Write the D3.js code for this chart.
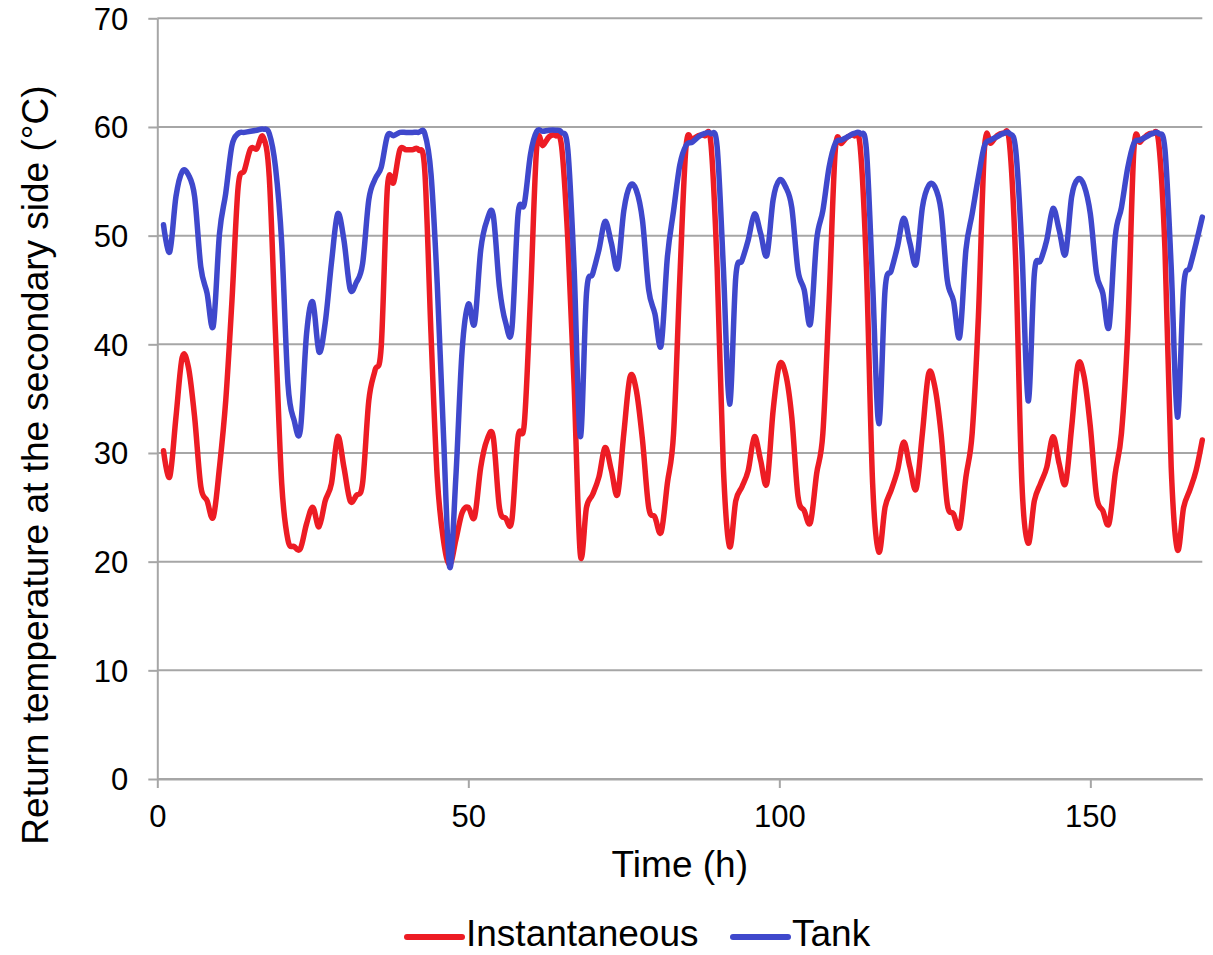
<!DOCTYPE html>
<meta charset="utf-8">
<head>
    <title>Return temperature at the secondary side</title>
    <script src="https://d3js.org/d3.v7.min.js"></script>
    <style>
        body { margin: 0; background: #ffffff; }
        text { font-family: "Liberation Sans", Arial, sans-serif; fill: #000000; }
    </style>
</head>
<body>
<div id="my_dataviz"></div>
<script>

// hourly return temperatures (°C), hours 1..168
var hours = d3.range(1, 169);

var instantaneous = [
    30.2, 27.8, 33.3, 38.8, 37.9, 33.3, 26.9, 25.6, 24.1, 28.7, 34.8, 44.0,
    54.5, 56.0, 58.0, 58.0, 59.1, 55.4, 41.0, 27.2, 22.0, 21.4, 21.2, 23.5,
    25.0, 23.2, 25.6, 27.2, 31.5, 28.7, 25.6, 26.1, 27.2, 34.8, 37.6, 39.8,
    54.5, 54.9, 57.9, 57.9, 57.9, 57.9, 56.0, 41.0, 27.8, 22.0, 19.7, 22.0,
    24.5, 25.0, 24.1, 28.7, 31.2, 31.5, 25.0, 24.0, 23.8, 31.5, 32.7, 44.4,
    58.2, 58.3, 59.1, 59.2, 58.2, 49.6, 36.4, 20.7, 25.0, 26.2, 27.8, 30.5,
    28.4, 26.2, 31.8, 37.0, 35.8, 31.2, 25.0, 24.1, 22.7, 27.2, 31.8, 46.0,
    58.2, 58.8, 59.2, 59.2, 58.5, 47.1, 28.7, 21.4, 25.6, 26.9, 28.4, 31.5,
    29.3, 27.2, 33.9, 38.1, 37.3, 33.3, 26.0, 24.7, 23.6, 28.1, 31.8, 44.0,
    57.9, 58.5, 59.1, 59.2, 58.2, 47.1, 27.2, 20.9, 25.0, 26.6, 28.4, 31.0,
    28.7, 26.7, 31.8, 37.3, 36.1, 31.8, 25.3, 24.4, 23.2, 27.8, 31.8, 42.5,
    58.2, 58.5, 59.2, 59.4, 58.5, 47.7, 27.2, 21.7, 25.6, 27.2, 28.7, 31.5,
    29.0, 27.2, 32.4, 38.1, 37.0, 32.4, 26.0, 24.7, 23.5, 28.1, 31.8, 41.0,
    57.9, 58.6, 59.2, 59.4, 58.5, 48.7, 28.7, 21.1, 25.0, 26.6, 28.4, 31.2
];

var tank = [
    51.0, 48.5, 53.6, 55.9, 55.6, 53.6, 47.1, 44.7, 41.7, 50.2, 53.9, 58.3,
    59.4, 59.5, 59.6, 59.7, 59.8, 59.4, 56.3, 49.3, 36.4, 33.0, 32.1, 41.0,
    43.9, 39.3, 42.0, 47.5, 52.0, 49.6, 45.1, 45.7, 47.4, 53.3, 55.2, 56.3,
    59.2, 59.2, 59.5, 59.5, 59.5, 59.5, 59.4, 55.7, 45.6, 31.8, 19.5, 27.8,
    39.4, 43.7, 41.9, 48.7, 51.4, 51.9, 45.3, 42.0, 41.4, 52.0, 52.9, 57.5,
    59.6, 59.6, 59.7, 59.7, 59.5, 57.9, 47.1, 31.5, 44.7, 46.5, 48.7, 51.3,
    49.3, 47.0, 52.3, 54.6, 54.2, 51.4, 45.0, 42.8, 39.9, 48.0, 52.3, 56.5,
    58.3, 58.6, 59.1, 59.4, 59.4, 58.2, 47.1, 34.5, 46.2, 47.7, 49.6, 52.0,
    50.2, 48.2, 53.3, 55.1, 54.5, 52.6, 46.8, 45.0, 41.9, 49.6, 52.3, 56.3,
    58.5, 58.8, 59.1, 59.4, 59.4, 57.9, 45.6, 32.7, 45.0, 46.8, 49.0, 51.6,
    49.3, 47.4, 52.6, 54.6, 54.5, 52.3, 45.9, 44.0, 40.7, 48.7, 52.0, 55.4,
    58.3, 58.8, 59.1, 59.4, 59.4, 57.9, 48.7, 34.8, 46.5, 47.7, 49.6, 52.5,
    50.5, 48.3, 53.6, 55.2, 54.6, 52.0, 46.5, 44.7, 41.6, 49.9, 52.6, 56.2,
    58.5, 58.8, 59.1, 59.4, 59.4, 57.9, 47.1, 33.3, 45.3, 47.1, 49.3, 51.7
];

var seriesNames = ["Instantaneous", "Tank"];
var seriesColors = ["#ed1c24", "#3f48cc"];
var xTicks = [0, 50, 100, 150];
var yTicks = [0, 10, 20, 30, 40, 50, 60, 70];

// set dimensions and margins of the graph
var margin = {top: 18.3, right: 10.7, bottom: 176, left: 157.3},
    width = 1213 - margin.left - margin.right,
    height = 955 - margin.top - margin.bottom;

var gridColor = "#a6a6a6";

var svgRoot = d3.select("#my_dataviz")
    .append("svg")
    .attr("width", 1213)
    .attr("height", 955);

var svg = svgRoot.append("g")
    .attr("transform", "translate(" + margin.left + "," + margin.top + ")");

// scales
var x = d3.scaleLinear().domain([0, 168]).range([0, width]);
var y = d3.scaleLinear().domain([0, 70]).range([height, 0]);

// horizontal gridlines
svg.append("g")
    .selectAll("line")
    .data(yTicks)
    .enter()
    .append("line")
        .attr("x1", 0)
        .attr("x2", width)
        .attr("y1", function(d) { return y(d); })
        .attr("y2", function(d) { return y(d); })
        .attr("stroke", gridColor)
        .attr("stroke-width", 2);

// Y axis
var yAxis = svg.append("g")
    .call(d3.axisLeft(y).tickValues(yTicks).tickSize(9).tickSizeOuter(0).tickPadding(20));
yAxis.selectAll("text").style("font-size", "31px").attr("dy", "0.35em");

// X axis
var xAxis = svg.append("g")
    .attr("transform", "translate(0," + height + ")")
    .call(d3.axisBottom(x).tickValues(xTicks).tickSize(9).tickSizeOuter(0).tickPadding(17));
xAxis.selectAll("text").style("font-size", "31px");

svg.selectAll(".domain, .tick line")
    .attr("stroke", gridColor)
    .attr("stroke-width", 2);
svg.selectAll(".tick text").attr("fill", "#000000");

// axis titles
svgRoot.append("text")
    .attr("text-anchor", "middle")
    .attr("x", margin.left + width / 2)
    .attr("y", 877)
    .style("font-size", "37px")
    .text("Time (h)");

svgRoot.append("text")
    .attr("text-anchor", "middle")
    .attr("transform", "rotate(-90)")
    .attr("x", -465)
    .attr("y", 48)
    .style("font-size", "37px")
    .text("Return temperature at the secondary side (°C)");

// lines
var line = d3.line()
    .x(function(d) { return x(d[0]); })
    .y(function(d) { return y(d[1]); })
    .curve(d3.curveCatmullRom.alpha(0));

[instantaneous, tank].forEach(function(values, i) {
    svg.append("path")
        .datum(hours.map(function(h, j) { return [h, values[j]]; }))
        .attr("fill", "none")
        .attr("stroke", seriesColors[i])
        .attr("stroke-width", 5.5)
        .attr("stroke-linejoin", "round")
        .attr("stroke-linecap", "round")
        .attr("d", line);
});

// legend
var legendX = [407, 733];
seriesNames.forEach(function(name, i) {
    svgRoot.append("line")
        .attr("x1", legendX[i]).attr("x2", legendX[i] + 55)
        .attr("y1", 937).attr("y2", 937)
        .attr("stroke", seriesColors[i])
        .attr("stroke-width", 6)
        .attr("stroke-linecap", "round");
    svgRoot.append("text")
        .attr("x", legendX[i] + 59)
        .attr("y", 946)
        .style("font-size", "37px")
        .text(name);
});

</script>
</body>
</html>
